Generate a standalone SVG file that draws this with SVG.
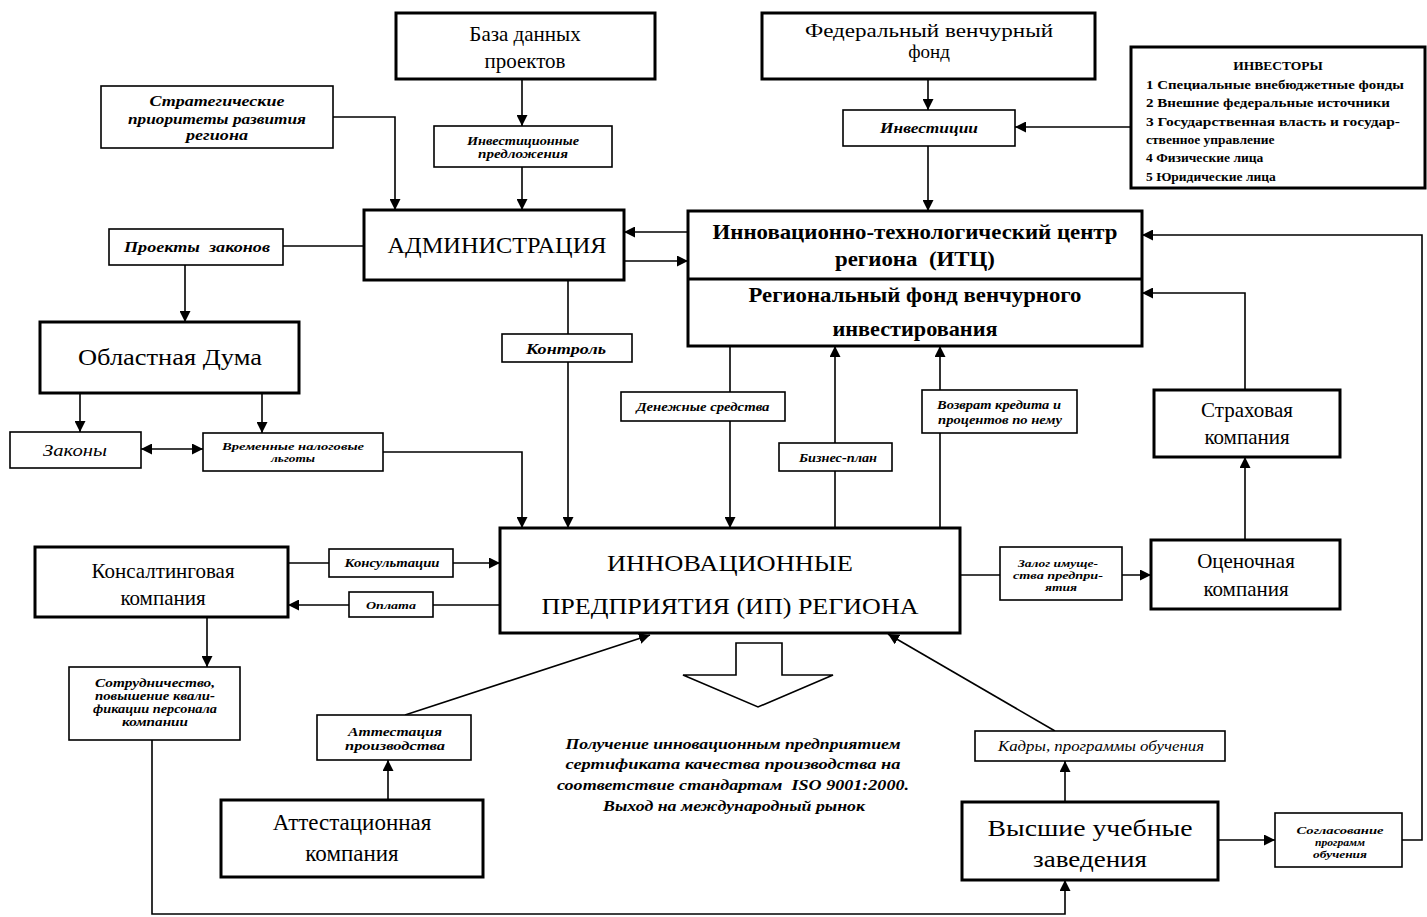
<svg xmlns="http://www.w3.org/2000/svg" width="1427" height="917" viewBox="0 0 1427 917">
<defs>
<marker id="ah" viewBox="0 0 10 10" refX="10" refY="5" markerWidth="11" markerHeight="11" markerUnits="userSpaceOnUse" orient="auto-start-reverse">
<path d="M0,0 L10,5 L0,10 z" fill="#000"/>
</marker>
<style>
.thick{fill:#fff;stroke:#000;stroke-width:3}
.thin{fill:#fff;stroke:#000;stroke-width:1.6}
.c{fill:none;stroke:#000;stroke-width:1.6}
.a{marker-end:url(#ah)}
.t{font-family:"Liberation Serif","DejaVu Serif",serif;fill:#000;text-anchor:middle}
.m{font-size:21px}
.b{font-size:23px}
.l{font-style:italic;font-weight:bold}
.inv{font-family:"Liberation Serif","DejaVu Serif",serif;font-size:13.5px;font-weight:bold;fill:#000}
</style>
</defs>
<rect width="1427" height="917" fill="#fff"/>

<g id="connectors">
<path class="c a" d="M522,79 V126"/>
<path class="c a" d="M522,167 V210"/>
<path class="c a" d="M333,117 H395 V210"/>
<path class="c a" d="M688,232 H624"/>
<path class="c a" d="M624,261 H688"/>
<path class="c" d="M364,246 H283"/>
<path class="c a" d="M185,265 V322"/>
<path class="c a" d="M928,79 V110"/>
<path class="c a" d="M928,146 V211"/>
<path class="c a" d="M1131,127 H1015"/>
<path class="c a" d="M80,393 V432"/>
<path class="c a" d="M262,393 V433"/>
<path class="c a" d="M141,449 H203" marker-start="url(#ah)"/>
<path class="c a" d="M383,452 H522 V528"/>
<path class="c a" d="M568,280 V528"/>
<path class="c a" d="M730,346 V528"/>
<path class="c a" d="M835,528 V346"/>
<path class="c a" d="M940,528 V346"/>
<path class="c a" d="M288,563 H500"/>
<path class="c a" d="M500,605 H288"/>
<path class="c a" d="M960,575 H1151"/>
<path class="c a" d="M1245,540 V457"/>
<path class="c a" d="M1245,390 V293 H1142"/>
<path class="c a" d="M1402,840 H1422 V235 H1142"/>
<path class="c a" d="M1218,840 H1275"/>
<path class="c a" d="M1065,802 V761"/>
<path class="c a" d="M1055,731 L888,634"/>
<path class="c a" d="M388,800 V760"/>
<path class="c a" d="M405,715 L650,635"/>
<path class="c a" d="M207,617 V667"/>
<path class="c a" d="M152,740 V914 H1065 V880"/>
<path d="M736,643 H782 V675 H833 L758,707 L683,675 H736 Z" fill="#fff" stroke="#000" stroke-width="1.6"/>
</g>

<g id="baza">
<rect class="thick" x="396" y="13" width="259" height="66"/>
<text class="t m" x="525" y="41">База данных</text>
<text class="t m" x="525" y="68">проектов</text>
</g>

<g id="fed">
<rect class="thick" x="762" y="13" width="333" height="66"/>
<text class="t" font-size="19" x="929" y="37" textLength="248" lengthAdjust="spacingAndGlyphs">Федеральный венчурный</text>
<text class="t" font-size="19" x="929" y="58">фонд</text>
</g>

<g id="investory">
<rect class="thick" x="1131" y="47" width="294" height="141"/>
<text class="inv" x="1278" y="70" text-anchor="middle">ИНВЕСТОРЫ</text>
<text class="inv" x="1146" y="89" textLength="258" lengthAdjust="spacingAndGlyphs">1 Специальные внебюджетные фонды</text>
<text class="inv" x="1146" y="107" textLength="244" lengthAdjust="spacingAndGlyphs">2 Внешние федеральные источники</text>
<text class="inv" x="1146" y="126" textLength="254" lengthAdjust="spacingAndGlyphs">3 Государственная власть и  государ-</text>
<text class="inv" x="1146" y="144">ственное управление</text>
<text class="inv" x="1146" y="162">4 Физические лица</text>
<text class="inv" x="1146" y="181">5 Юридические лица</text>
</g>

<g id="strat">
<rect class="thin" x="101" y="86" width="232" height="62"/>
<text class="t l" font-size="15" x="217" y="106" textLength="135" lengthAdjust="spacingAndGlyphs">Стратегические</text>
<text class="t l" font-size="15" x="217" y="124" textLength="178" lengthAdjust="spacingAndGlyphs">приоритеты развития</text>
<text class="t l" font-size="15" x="217" y="140" textLength="62" lengthAdjust="spacingAndGlyphs">региона</text>
</g>

<g id="invpred">
<rect class="thin" x="434" y="126" width="178" height="41"/>
<text class="t l" font-size="11.5" x="523" y="145" textLength="112" lengthAdjust="spacingAndGlyphs">Инвестиционные</text>
<text class="t l" font-size="11.5" x="523" y="158" textLength="90" lengthAdjust="spacingAndGlyphs">предложения</text>
</g>

<g id="investicii">
<rect class="thin" x="843" y="110" width="172" height="36"/>
<text class="t l" font-size="15" x="929" y="133" textLength="98" lengthAdjust="spacingAndGlyphs">Инвестиции</text>
</g>

<g id="admin">
<rect class="thick" x="364" y="210" width="260" height="70"/>
<text class="t b" x="497" y="253" textLength="219" lengthAdjust="spacingAndGlyphs">АДМИНИСТРАЦИЯ</text>
</g>

<g id="proekty">
<rect class="thin" x="109" y="229" width="174" height="36"/>
<text class="t l" font-size="15" x="197" y="252" textLength="146" lengthAdjust="spacingAndGlyphs" xml:space="preserve">Проекты  законов</text>
</g>

<g id="itc">
<rect class="thick" x="688" y="211" width="454" height="135"/>
<line x1="688" y1="279" x2="1142" y2="279" stroke="#000" stroke-width="3"/>
<text class="t m" font-weight="bold" x="915" y="239" textLength="405" lengthAdjust="spacingAndGlyphs">Инновационно-технологический центр</text>
<text class="t m" font-weight="bold" x="915" y="266" textLength="160" lengthAdjust="spacingAndGlyphs" xml:space="preserve">региона  (ИТЦ)</text>
<text class="t m" font-weight="bold" x="915" y="302" textLength="333" lengthAdjust="spacingAndGlyphs">Региональный фонд венчурного</text>
<text class="t m" font-weight="bold" x="915" y="336" textLength="165" lengthAdjust="spacingAndGlyphs">инвестирования</text>
</g>

<g id="duma">
<rect class="thick" x="40" y="322" width="259" height="71"/>
<text class="t b" x="170" y="365" textLength="184" lengthAdjust="spacingAndGlyphs">Областная Дума</text>
</g>

<g id="kontrol">
<rect class="thin" x="502" y="334" width="130" height="28"/>
<text class="t l" font-size="14" x="566" y="354" textLength="80" lengthAdjust="spacingAndGlyphs">Контроль</text>
</g>

<g id="zakony">
<rect class="thin" x="10" y="432" width="131" height="36"/>
<text class="t" font-style="italic" font-size="17" x="75" y="456" textLength="64" lengthAdjust="spacingAndGlyphs">Законы</text>
</g>

<g id="lgoty">
<rect class="thin" x="203" y="433" width="180" height="38"/>
<text class="t l" font-size="11" x="293" y="450" textLength="142" lengthAdjust="spacingAndGlyphs">Временные налоговые</text>
<text class="t l" font-size="11" x="293" y="462" textLength="44" lengthAdjust="spacingAndGlyphs">льготы</text>
</g>

<g id="den">
<rect class="thin" x="621" y="392" width="164" height="29"/>
<text class="t l" font-size="12" x="703" y="411" textLength="133" lengthAdjust="spacingAndGlyphs">Денежные средства</text>
</g>

<g id="biznes">
<rect class="thin" x="779" y="443" width="113" height="28"/>
<text class="t l" font-size="11.5" x="838" y="462" textLength="78" lengthAdjust="spacingAndGlyphs">Бизнес-план</text>
</g>

<g id="vozvrat">
<rect class="thin" x="922" y="390" width="155" height="43"/>
<text class="t l" font-size="12" x="999" y="409" textLength="124" lengthAdjust="spacingAndGlyphs">Возврат кредита и</text>
<text class="t l" font-size="12" x="1000" y="424" textLength="124" lengthAdjust="spacingAndGlyphs">процентов по нему</text>
</g>

<g id="strah">
<rect class="thick" x="1154" y="390" width="186" height="67"/>
<text class="t m" x="1247" y="417">Страховая</text>
<text class="t m" x="1247" y="444">компания</text>
</g>

<g id="ip">
<rect class="thick" x="500" y="528" width="460" height="105"/>
<text class="t" font-size="24" x="730" y="571" textLength="246" lengthAdjust="spacingAndGlyphs">ИННОВАЦИОННЫЕ</text>
<text class="t" font-size="24" x="730" y="614" textLength="377" lengthAdjust="spacingAndGlyphs">ПРЕДПРИЯТИЯ (ИП) РЕГИОНА</text>
</g>

<g id="konsalt">
<rect class="thick" x="35" y="547" width="253" height="70"/>
<text class="t m" x="163" y="578">Консалтинговая</text>
<text class="t m" x="163" y="605">компания</text>
</g>

<g id="konsult">
<rect class="thin" x="329" y="549" width="124" height="28"/>
<text class="t l" font-size="11.5" x="392" y="567" textLength="95" lengthAdjust="spacingAndGlyphs">Консультации</text>
</g>

<g id="oplata">
<rect class="thin" x="349" y="592" width="84" height="25"/>
<text class="t l" font-size="11" x="391" y="609" textLength="50" lengthAdjust="spacingAndGlyphs">Оплата</text>
</g>

<g id="zalog">
<rect class="thin" x="1000" y="547" width="122" height="53"/>
<text class="t l" font-size="10.5" x="1058" y="567" textLength="80" lengthAdjust="spacingAndGlyphs">Залог имуще-</text>
<text class="t l" font-size="10.5" x="1058" y="579" textLength="90" lengthAdjust="spacingAndGlyphs">ства предпри-</text>
<text class="t l" font-size="10.5" x="1061" y="591" textLength="32" lengthAdjust="spacingAndGlyphs">ятия</text>
</g>

<g id="ocen">
<rect class="thick" x="1151" y="540" width="189" height="69"/>
<text class="t m" x="1246" y="568">Оценочная</text>
<text class="t m" x="1246" y="596">компания</text>
</g>

<g id="sotr">
<rect class="thin" x="69" y="667" width="171" height="73"/>
<text class="t l" font-size="11.5" x="155" y="687" textLength="120" lengthAdjust="spacingAndGlyphs">Сотрудничество,</text>
<text class="t l" font-size="11.5" x="155" y="700" textLength="120" lengthAdjust="spacingAndGlyphs">повышение квали-</text>
<text class="t l" font-size="11.5" x="155" y="713" textLength="124" lengthAdjust="spacingAndGlyphs">фикации персонала</text>
<text class="t l" font-size="11.5" x="155" y="726" textLength="66" lengthAdjust="spacingAndGlyphs">компании</text>
</g>

<g id="attest-pr">
<rect class="thin" x="317" y="715" width="154" height="45"/>
<text class="t l" font-size="13" x="395" y="736" textLength="94" lengthAdjust="spacingAndGlyphs">Аттестация</text>
<text class="t l" font-size="13" x="395" y="750" textLength="100" lengthAdjust="spacingAndGlyphs">производства</text>
</g>

<g id="attest-k">
<rect class="thick" x="221" y="800" width="262" height="77"/>
<text class="t" font-size="23" x="352" y="830">Аттестационная</text>
<text class="t" font-size="23" x="352" y="861">компания</text>
</g>

<g id="kadry">
<rect class="thin" x="975" y="731" width="250" height="30"/>
<text class="t" font-style="italic" font-size="14" x="1101" y="751" textLength="206" lengthAdjust="spacingAndGlyphs">Кадры, программы обучения</text>
</g>

<g id="vuz">
<rect class="thick" x="962" y="802" width="256" height="78"/>
<text class="t" font-size="24" x="1090" y="836" textLength="205" lengthAdjust="spacingAndGlyphs">Высшие учебные</text>
<text class="t" font-size="24" x="1090" y="867" textLength="114" lengthAdjust="spacingAndGlyphs">заведения</text>
</g>

<g id="soglas">
<rect class="thin" x="1275" y="813" width="127" height="54"/>
<text class="t l" font-size="10.5" x="1340" y="834" textLength="87" lengthAdjust="spacingAndGlyphs">Согласование</text>
<text class="t l" font-size="10.5" x="1340" y="846" textLength="50" lengthAdjust="spacingAndGlyphs">программ</text>
<text class="t l" font-size="10.5" x="1340" y="858" textLength="54" lengthAdjust="spacingAndGlyphs">обучения</text>
</g>

<g id="poluchenie">
<text class="t l" font-size="15" x="733" y="749" textLength="335" lengthAdjust="spacingAndGlyphs">Получение инновационным предприятием</text>
<text class="t l" font-size="15" x="733" y="769" textLength="335" lengthAdjust="spacingAndGlyphs">сертификата качества производства на</text>
<text class="t l" font-size="15" x="733" y="790" textLength="352" lengthAdjust="spacingAndGlyphs" xml:space="preserve">соответствие стандартам  ISO 9001:2000.</text>
<text class="t l" font-size="15" x="734" y="811" textLength="262" lengthAdjust="spacingAndGlyphs">Выход на международный рынок</text>
</g>
</svg>
